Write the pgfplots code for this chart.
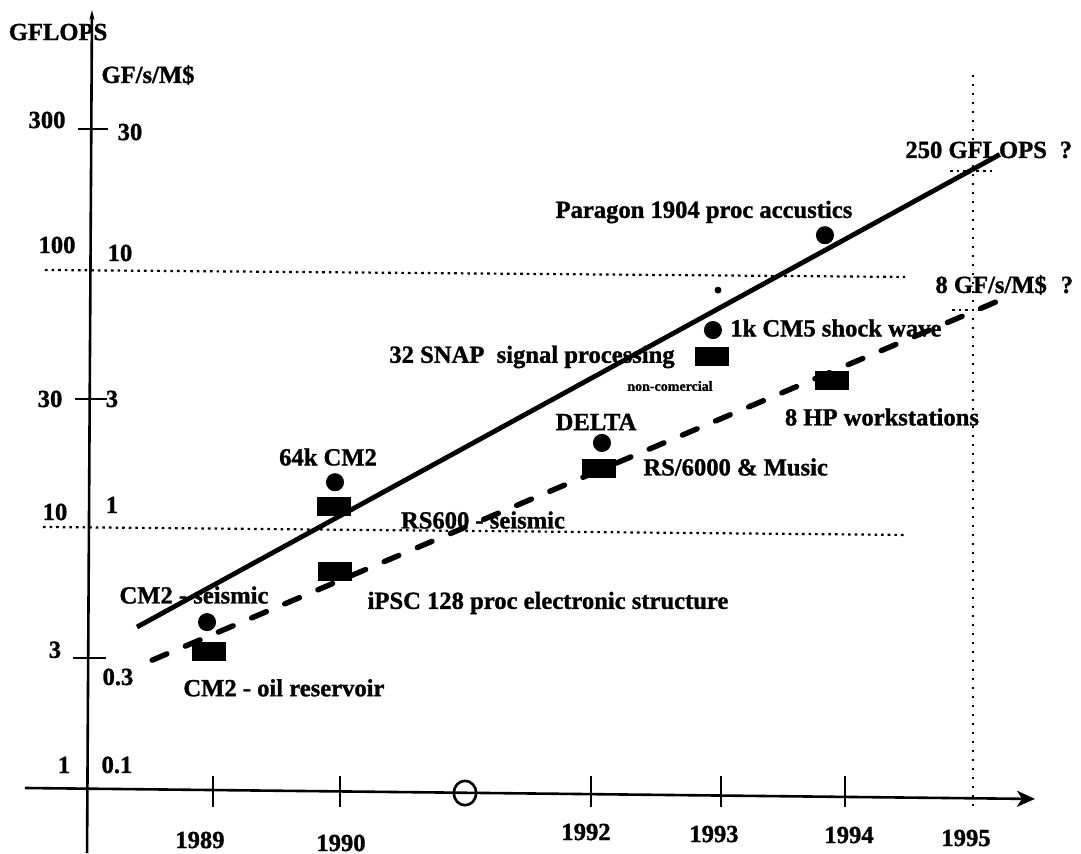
\documentclass[border=0pt]{standalone}
\usepackage{fontspec}
\setmainfont{Liberation Serif}[BoldFeatures={FakeBold=1.2}]
\usepackage{pgfplots}
\pgfplotsset{compat=1.18}
\usetikzlibrary{arrows.meta}
\pgfdeclareplotmark{rect}{\pgfpathrectangle{\pgfpoint{-8.5pt}{-4.75pt}}{\pgfpoint{17pt}{9.5pt}}\pgfusepathqfill}
\begin{document}
\begin{tikzpicture}[lab/.style={font=\fontsize{12.3}{14}\selectfont\bfseries, inner sep=0pt},
  dotl/.style={line width=1.1pt, dash pattern=on 1.3pt off 2pt}]
\begin{axis}[scale only axis, width=540.5pt, height=427pt,
  xmin=1987.319, xmax=1995.851, ymode=log, ymin=0.5735, ymax=957.5,
  axis lines=none, clip=false]
\coordinate (SW) at (rel axis cs:0,0);
\coordinate (NE) at (rel axis cs:1,1);
% axes
\draw[line width=1.3pt, -{Stealth[length=9pt,width=8pt,inset=2.5pt]}] (axis cs:1987.516,1.0175) -- (axis cs:1995.488,0.925);
\draw[line width=1.3pt, -{Stealth[length=5pt,width=2.5pt]}] (axis cs:1988.006,0.578) -- (axis cs:1988.045,877.8);
% y ticks
\draw[line width=1.2pt] (axis cs:1987.934,312) -- (axis cs:1988.171,312);
\draw[line width=1.2pt] (axis cs:1987.911,29.9) -- (axis cs:1988.163,29.9);
\draw[line width=1.2pt] (axis cs:1987.895,3.15) -- (axis cs:1988.155,3.15);
% x ticks
\draw[line width=1.2pt] (axis cs:1989,1.129) -- (axis cs:1989,0.863);
\draw[line width=1.2pt] (axis cs:1990.002,1.129) -- (axis cs:1990.002,0.863);
\draw[line width=1.2pt] (axis cs:1991.983,1.129) -- (axis cs:1991.983,0.863);
\draw[line width=1.2pt] (axis cs:1993.009,1.129) -- (axis cs:1993.009,0.863);
\draw[line width=1.2pt] (axis cs:1993.988,1.129) -- (axis cs:1993.988,0.863);
\draw[line width=1.3pt] (axis cs:1990.989,0.974) ellipse[x radius=5.6pt, y radius=6.1pt];
% dotted reference lines
\draw[dotl] (axis cs:1987.674,91.7) -- (axis cs:1994.462,86.3);
\draw[dotl] (axis cs:1987.658,9.83) -- (axis cs:1994.462,9.17);
\draw[line width=1.1pt, dash pattern=on 1pt off 3.5pt] (axis cs:1994.998,499) -- (axis cs:1994.998,0.826);
\draw[dotl] (axis cs:1994.817,216.7) -- (axis cs:1995.172,216.7);
\draw[dotl] (axis cs:1994.833,64.8) -- (axis cs:1995.07,64.8);
% trend lines
\addplot[line width=2.4pt, black] coordinates {(1988.40,4.12) (1995.21,250)};
\addplot[line width=2.7pt, black, line cap=round, dash pattern=on 8pt off 10pt] coordinates {(1988.52,3.09) (1995.196,70)};
% markers
\addplot[only marks, mark=*, mark size=4.3pt, black] coordinates {
 (1988.953,4.30) (1989.963,14.5) (1992.07,20.4) (1992.946,54.4) (1993.83,124)};
\addplot[only marks, mark=*, mark size=1.5pt, black] coordinates {(1992.986,77)};
\addplot[only marks, mark=rect, black] coordinates {
 (1988.968,3.32) (1989.955,11.7) (1989.963,6.65) (1992.05,16.4) (1992.94,43.4) (1993.885,35.2)};
% axis labels
\node[lab] at (axis cs:1987.777,724.7) {GFLOPS};
\node[lab] at (axis cs:1988.487,499) {GF/s/M\$};
\node[lab] at (axis cs:1987.690,337.6) {300};
\node[lab] at (axis cs:1988.345,304) {30};
\node[lab] at (axis cs:1987.769,113.9) {100};
\node[lab] at (axis cs:1988.266,106.3) {10};
\node[lab] at (axis cs:1987.714,29.9) {30};
\node[lab] at (axis cs:1988.203,29.9) {3};
\node[lab] at (axis cs:1987.753,11.2) {10};
\node[lab] at (axis cs:1988.203,11.9) {1};
\node[lab] at (axis cs:1987.753,3.38) {3};
\node[lab] at (axis cs:1988.25,2.67) {0.3};
\node[lab] at (axis cs:1987.824,1.243) {1};
\node[lab] at (axis cs:1988.242,1.243) {0.1};
\node[lab] at (axis cs:1988.897,0.6476) {1989};
\node[lab] at (axis cs:1990.01,0.631) {1990};
\node[lab] at (axis cs:1991.944,0.694) {1992};
\node[lab] at (axis cs:1992.954,0.682) {1993};
\node[lab] at (axis cs:1994.02,0.676) {1994};
\node[lab] at (axis cs:1994.943,0.659) {1995};
% annotations
\node[lab] at (axis cs:1988.85,5.44) {CM2 - seismic};
\node[lab] at (axis cs:1989.56,2.43) {CM2 - oil reservoir};
\node[lab] at (axis cs:1989.908,18.06) {64k CM2};
\node[lab] at (axis cs:1991.131,10.44) {RS600 - seismic};
\node[lab] at (axis cs:1991.644,5.08) {iPSC 128 proc electronic structure};
\node[lab] at (axis cs:1992.023,24.47) {DELTA};
\node[lab, anchor=west] at (axis cs:1992.394,16.55) {RS/6000 \& Music};
\node[lab] at (axis cs:1991.518,43.05) {32 SNAP~ signal processing};
\node[lab, font=\fontsize{7}{8}\selectfont\bfseries] at (axis cs:1992.607,33.46) {non-comercial};
\node[lab, anchor=west] at (axis cs:1993.08,55.4) {1k CM5 shock wave};
\node[lab] at (axis cs:1992.875,151.7) {Paragon 1904 proc accustics};
\node[lab, anchor=west] at (axis cs:1994.462,260.2) {250 GFLOPS};
\node[lab] at (axis cs:1995.732,260.2) {?};
\node[lab, anchor=west] at (axis cs:1994.699,80.5) {8 GF/s/M\$};
\node[lab] at (axis cs:1995.740,80.5) {?};
\node[lab] at (axis cs:1994.28,25.56) {8 HP workstations};
\end{axis}
\pgfresetboundingbox
\useasboundingbox (SW) rectangle (NE);
\end{tikzpicture}
\end{document}
